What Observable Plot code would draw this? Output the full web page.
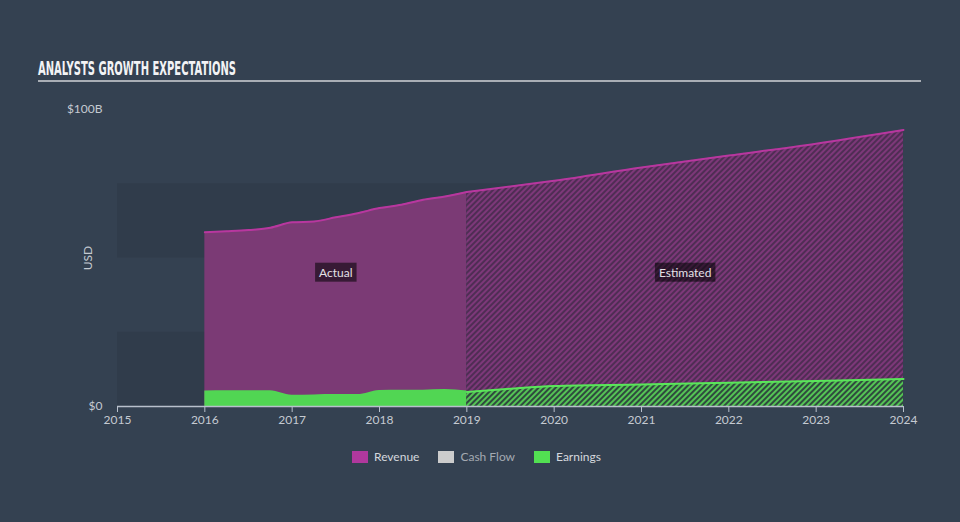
<!DOCTYPE html>
<html>
<head>
<meta charset="utf-8">
<script src="https://cdn.jsdelivr.net/npm/d3@7"></script>
<script src="https://cdn.jsdelivr.net/npm/@observablehq/plot@0.6"></script>
<style>
  html, body { margin: 0; padding: 0; background: #344151; }
  #wrap { position: relative; width: 960px; height: 522px; background: #344151; overflow: hidden; font-family: Lato, "Open Sans", sans-serif; }
  #title { position: absolute; left: 0; top: 0; }
  #chart { position: absolute; left: 0; top: 0; }
  #legend { position: absolute; left: 352px; top: 449px; display: flex; align-items: center; font-size: 12px; color: #d4d8de; }
  .item { display: flex; align-items: center; margin-right: 19px; }
  .sw { width: 16px; height: 12px; margin-right: 6px; }
</style>
</head>
<body>
<div id="wrap">
  <svg id="title" width="960" height="90">
    <text x="38" y="74.5" font-family="DejaVu Sans" font-weight="bold" font-size="19" fill="#f2f3f5" textLength="198" lengthAdjust="spacingAndGlyphs">ANALYSTS GROWTH EXPECTATIONS</text>
    <line x1="38" x2="921" y1="81" y2="81" stroke="#a9aeb5" stroke-width="2"></line>
  </svg>
  <div id="chart"></div>
  <div id="legend"></div>
</div>
<script>
// ---- data (values in billions USD, dates as fractional years) ----
const actualDates    = [2016, 2016.25, 2016.5, 2016.75, 2017, 2017.25, 2017.5, 2017.75, 2018, 2018.25, 2018.5, 2018.75, 2019];
const revenueActual  = [58.7, 59.0, 59.4, 60.2, 62.0, 62.3, 63.7, 65.1, 66.8, 67.9, 69.6, 70.7, 72.2];
const earningsActual = [5.2, 5.3, 5.3, 5.3, 3.8, 3.9, 4.0, 4.0, 5.4, 5.5, 5.5, 5.7, 5.2];

const estDates       = [2019, 2019.5, 2020, 2021, 2022, 2023, 2024];
const revenueEst     = [72.2, 74.1, 76.0, 80.5, 84.5, 88.5, 93.1];
const earningsEst    = [4.9, 6.0, 6.9, 7.4, 8.0, 8.6, 9.3];

const xTicks = [2015, 2016, 2017, 2018, 2019, 2020, 2021, 2022, 2023, 2024];
const yTicks = [0, 100];
const gridTicks = [0, 25, 50, 75];
const xDomain = [2015, 2024];

const phaseLabels = ["Actual", "Estimated"];
const legendNames = ["Revenue", "Cash Flow", "Earnings"];
const legendColors = ["#b0389d", "#cccccc", "#52e052"];

// ---- build tables ----
const actual = actualDates.map((d, i) => ({date: d, revenue: revenueActual[i], earnings: earningsActual[i]}));
const est = estDates.map((d, i) => ({date: d, revenue: revenueEst[i], earnings: earningsEst[i]}));
const bands = [];
for (let i = 0; i < gridTicks.length - 1; i += 2) bands.push({y1: gridTicks[i], y2: gridTicks[i + 1]});
const labelY = 45;
const labels = [
  {text: phaseLabels[0], x: (actualDates[0] + actualDates[actualDates.length - 1]) / 2, y: labelY},
  {text: phaseLabels[1], x: (estDates[0] + estDates[estDates.length - 1]) / 2, y: labelY}
];

const plot = Plot.plot({
  width: 960,
  height: 522,
  marginLeft: 117,
  marginRight: 57,
  marginTop: 109,
  marginBottom: 116,
  style: {background: "transparent", color: "#c5cad1", fontSize: "12px", fontFamily: "Lato, 'Open Sans', sans-serif"},
  x: {domain: xDomain, ticks: xTicks, tickFormat: d => String(d), tickSize: 6, tickPadding: 3},
  y: {domain: [0, 100], ticks: yTicks, tickFormat: d => d === 0 ? "$0" : `$${d}B`, tickSize: 0, tickPadding: 15,
      label: "USD", labelAnchor: "center", labelArrow: "none", labelOffset: 34},
  marks: [
    Plot.rect(bands, {x1: xDomain[0], x2: xDomain[1], y1: "y1", y2: "y2", fill: "#303c4b"}),
    Plot.areaY(actual, {x: "date", y: "revenue", fill: "#7b3a75", curve: "monotone-x"}),
    Plot.areaY(est, {x: "date", y: "revenue", fill: "url(#hatchRev)", curve: "monotone-x"}),
    Plot.areaY(actual, {x: "date", y: "earnings", fill: "#51d653", curve: "monotone-x"}),
    Plot.areaY(est, {x: "date", y: "earnings", fill: "url(#hatchEarn)", curve: "monotone-x"}),
    Plot.lineY(actual, {x: "date", y: "revenue", stroke: "#b8379f", strokeWidth: 2, curve: "monotone-x"}),
    Plot.lineY(est, {x: "date", y: "revenue", stroke: "#b8379f", strokeWidth: 2, curve: "monotone-x"}),
    Plot.lineY(est, {x: "date", y: "earnings", stroke: "#5ae65a", strokeWidth: 2, curve: "monotone-x"}),
    Plot.ruleY([0], {stroke: "#b8c0cc", strokeWidth: 1.5}),
    Plot.text(labels, {x: "x", y: "y", text: "text", fill: "#e4e0e6", fontSize: 12}),
    Plot.axisX({ticks: xTicks, tickFormat: d => String(d), tickSize: 6, tickPadding: 3, stroke: "#b8c0cc", color: "#c5cad1"})
  ]
});

// hatch patterns
const svg = d3.select(plot);
const defs = svg.insert("defs", ":first-child");
const p1 = defs.append("pattern").attr("id", "hatchRev").attr("patternUnits", "userSpaceOnUse")
  .attr("width", 4).attr("height", 4).attr("patternTransform", "rotate(45)");
p1.append("rect").attr("width", 4).attr("height", 4).attr("fill", "#4f2d54");
p1.append("rect").attr("width", 2).attr("height", 4).attr("fill", "#7d3879");
const p2 = defs.append("pattern").attr("id", "hatchEarn").attr("patternUnits", "userSpaceOnUse")
  .attr("width", 4).attr("height", 4).attr("patternTransform", "rotate(45)");
p2.append("rect").attr("width", 4).attr("height", 4).attr("fill", "#2f4a3e");
p2.append("rect").attr("width", 2).attr("height", 4).attr("fill", "#55c455");

document.getElementById("chart").appendChild(plot);

// label boxes (placed from each label's own rendered box)
plot.querySelectorAll("text").forEach(t => {
  if (!phaseLabels.includes(t.textContent)) return;
  const b = t.getBBox();
  const r = document.createElementNS("http://www.w3.org/2000/svg", "rect");
  r.setAttribute("x", b.x - 4);
  r.setAttribute("y", b.y - 2);
  r.setAttribute("width", b.width + 8);
  r.setAttribute("height", b.height + 4);
  r.setAttribute("fill", "rgba(0,0,0,0.55)");
  const tr = t.getAttribute("transform");
  if (tr) r.setAttribute("transform", tr);
  t.parentNode.insertBefore(r, t);
});

// legend
const legend = d3.select("#legend");
legendNames.forEach((n, i) => {
  const it = legend.append("div").attr("class", "item");
  it.append("div").attr("class", "sw").style("background", legendColors[i]);
  it.append("span").text(n).style("color", n === "Cash Flow" ? "#a4aab2" : "#d4d8de");
});
</script>
</body>
</html>
